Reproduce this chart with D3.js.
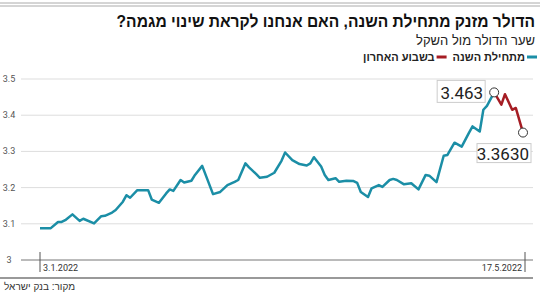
<!DOCTYPE html>
<html>
<head>
<meta charset="utf-8">
<script src="https://cdn.jsdelivr.net/npm/d3@7"></script>
<style>
  body { margin: 0; background: #fff; }
  svg { display: block; font-family: "Liberation Sans", Arial, sans-serif; }
</style>
</head>
<body>
<div id="chart"></div>
<script>
// USD/ILS rate
const dates = [
  "2022-01-03", "2022-01-06", "2022-01-08", "2022-01-09", "2022-01-10", "2022-01-12",
  "2022-01-14", "2022-01-15", "2022-01-18", "2022-01-20", "2022-01-21", "2022-01-23",
  "2022-01-24", "2022-01-26", "2022-01-27", "2022-01-28", "2022-01-30", "2022-02-02",
  "2022-02-03", "2022-02-05", "2022-02-07", "2022-02-08", "2022-02-09", "2022-02-11",
  "2022-02-12", "2022-02-14", "2022-02-15", "2022-02-17", "2022-02-20", "2022-02-22",
  "2022-02-24", "2022-02-26", "2022-02-27", "2022-03-01", "2022-03-02", "2022-03-04",
  "2022-03-05", "2022-03-07", "2022-03-09", "2022-03-11", "2022-03-12", "2022-03-14",
  "2022-03-16", "2022-03-18", "2022-03-19", "2022-03-20", "2022-03-22", "2022-03-23",
  "2022-03-24", "2022-03-26", "2022-03-27", "2022-03-29", "2022-03-31", "2022-04-01",
  "2022-04-02", "2022-04-04", "2022-04-05", "2022-04-07", "2022-04-08", "2022-04-10",
  "2022-04-11", "2022-04-12", "2022-04-14", "2022-04-16", "2022-04-18", "2022-04-20",
  "2022-04-21", "2022-04-23", "2022-04-25", "2022-04-26", "2022-04-28", "2022-04-30",
  "2022-05-02", "2022-05-03", "2022-05-05", "2022-05-06", "2022-05-07", "2022-05-09",
  "2022-05-11", "2022-05-12", "2022-05-14", "2022-05-15", "2022-05-17"
];
const rates = [
  3.088, 3.088, 3.105, 3.105, 3.110, 3.126,
  3.108, 3.114, 3.101, 3.121, 3.122, 3.131,
  3.138, 3.161, 3.179, 3.172, 3.193, 3.193,
  3.167, 3.158, 3.184, 3.195, 3.191, 3.221,
  3.214, 3.219, 3.235, 3.260, 3.182, 3.188,
  3.207, 3.216, 3.221, 3.267, 3.256, 3.237,
  3.227, 3.230, 3.241, 3.274, 3.297, 3.276,
  3.265, 3.261, 3.267, 3.284, 3.258, 3.235,
  3.221, 3.226, 3.216, 3.219, 3.218, 3.213,
  3.188, 3.174, 3.198, 3.207, 3.202, 3.221,
  3.224, 3.221, 3.209, 3.212, 3.195, 3.235,
  3.233, 3.215, 3.288, 3.290, 3.324, 3.313,
  3.351, 3.369, 3.355, 3.415, 3.426, 3.463,
  3.429, 3.458, 3.415, 3.420, 3.352
];
const lastWeekStart = "2022-05-09";

const yTicks = [3, 3.1, 3.2, 3.3, 3.4, 3.5];
const yTickLabels = ["3", "3.1", "3.2", "3.3", "3.4", "3.5"];
const dateLabels = ["3.1.2022", "17.5.2022"];
const highLabel = "3.463";
const lastLabel = "3.3630";

const title = "הדולר מזנק מתחילת השנה, האם אנחנו לקראת שינוי מגמה?";
const subtitle = "שער הדולר מול השקל";
const legendNames = ["מתחילת השנה", "בשבוע האחרון"];
const source = "מקור: בנק ישראל";

const teal = "#1b8ea6";
const red = "#a51c23";

const W = 550, H = 293;
const parse = d3.timeParse("%Y-%m-%d");
const data = dates.map((d, i) => ({ date: parse(d), value: rates[i] }));
const splitDate = parse(lastWeekStart);
const ytd = data.filter(d => d.date <= splitDate);
const week = data.filter(d => d.date >= splitDate);

const svg = d3.select("#chart").append("svg")
    .attr("width", W)
    .attr("height", H);

const x = d3.scaleTime()
    .domain(d3.extent(data, d => d.date))
    .range([40, 523]);

const y = d3.scaleLinear()
    .domain([3, 3.5])
    .range([260, 79]);

// top double rule
[3, 6].forEach(yy => {
    svg.append("line")
        .attr("x1", 0).attr("x2", 540)
        .attr("y1", yy).attr("y2", yy)
        .attr("stroke", "#aaa")
        .attr("stroke-width", 1);
});

// titles - heavy title squeezed horizontally like the condensed original
const titleText = svg.append("text")
    .attr("x", 0).attr("y", 0)
    .attr("direction", "rtl")
    .attr("font-size", 17)
    .attr("font-weight", "bold")
    .attr("fill", "#111")
    .text(title);
const tw = titleText.node().getComputedTextLength();
titleText.attr("transform", `translate(535,27) scale(${419 / tw},1)`);

svg.append("text")
    .attr("x", 535).attr("y", 45)
    .attr("direction", "rtl")
    .attr("font-size", 13)
    .attr("fill", "#222")
    .text(subtitle);

// legend (right to left)
const legend = svg.append("g");
let lx = 537;
[teal, red].forEach((c, i) => {
    legend.append("line")
        .attr("x1", lx - 10).attr("x2", lx)
        .attr("y1", 57).attr("y2", 57)
        .attr("stroke", c)
        .attr("stroke-width", 3);
    const t = legend.append("text")
        .attr("x", lx - 12).attr("y", 61)
        .attr("direction", "rtl")
        .attr("font-size", 11)
        .attr("font-weight", "bold")
        .attr("fill", "#222")
        .text(legendNames[i]);
    lx = lx - 12 - t.node().getComputedTextLength() - 6;
});

// grid
const grid = svg.append("g");
grid.selectAll("line")
    .data(yTicks)
    .join("line")
    .attr("x1", 21).attr("x2", 533)
    .attr("y1", d => y(d)).attr("y2", d => y(d))
    .attr("stroke", d => d === 3 ? "#777" : "#ddd")
    .attr("stroke-width", 1);

grid.selectAll("text")
    .data(yTicks)
    .join("text")
    .attr("x", 9)
    .attr("y", d => y(d) + 3)
    .attr("text-anchor", "middle")
    .attr("font-family", "Roboto, sans-serif")
    .attr("font-size", 9)
    .attr("fill", "#555")
    .text((d, i) => yTickLabels[i]);

// date ticks at both ends
const ends = [data[0].date, data[data.length - 1].date];
ends.forEach((d, i) => {
    const xx = x(d) + (i === 0 ? 0 : 2);
    svg.append("line")
        .attr("x1", xx).attr("x2", xx)
        .attr("y1", 252).attr("y2", 272)
        .attr("stroke", "#555")
        .attr("stroke-width", 1);
    svg.append("text")
        .attr("x", i === 0 ? xx + 3 : xx - 3)
        .attr("y", 271)
        .attr("text-anchor", i === 0 ? "start" : "end")
        .attr("font-family", "Roboto, sans-serif")
        .attr("font-size", 9)
        .attr("fill", "#333")
        .text(dateLabels[i]);
});

// bottom rule + source
svg.append("line")
    .attr("x1", 0).attr("x2", 533)
    .attr("y1", 278).attr("y2", 278)
    .attr("stroke", "#999")
    .attr("stroke-width", 2);

svg.append("text")
    .attr("x", 4).attr("y", 290)
    .attr("direction", "rtl")
    .attr("text-anchor", "end")
    .attr("font-size", 10)
    .attr("fill", "#333")
    .text(source);

// lines
const line = d3.line()
    .x(d => x(d.date))
    .y(d => y(d.value));

svg.append("path")
    .datum(ytd)
    .attr("d", line)
    .attr("fill", "none")
    .attr("stroke", teal)
    .attr("stroke-width", 2.5)
    .attr("stroke-linejoin", "round");

svg.append("path")
    .datum(week)
    .attr("d", line)
    .attr("fill", "none")
    .attr("stroke", red)
    .attr("stroke-width", 2.5)
    .attr("stroke-linejoin", "round");

// highlighted points with value boxes
const hi = week[0];
const last = data[data.length - 1];

function valueBox(bx, by, bw, bh, label) {
    svg.append("rect")
        .attr("x", bx).attr("y", by)
        .attr("width", bw).attr("height", bh)
        .attr("fill", "#fff")
        .attr("stroke", "#ccc")
        .attr("stroke-width", 1);
    svg.append("text")
        .attr("x", bx + bw - 2).attr("y", by + bh - 3)
        .attr("text-anchor", "end")
        .attr("font-family", "Roboto, sans-serif")
        .attr("font-size", 17)
        .attr("fill", "#222")
        .text(label);
}

valueBox(x(hi.date) - 57, y(hi.value) - 12, 48, 22, highLabel);
valueBox(x(last.date) - 46, y(last.value) + 11, 54, 19, lastLabel);

[hi, last].forEach(d => {
    svg.append("circle")
        .attr("cx", x(d.date))
        .attr("cy", y(d.value))
        .attr("r", 4.5)
        .attr("fill", "#fff")
        .attr("stroke", "#333")
        .attr("stroke-width", 1);
});
</script>
</body>
</html>
